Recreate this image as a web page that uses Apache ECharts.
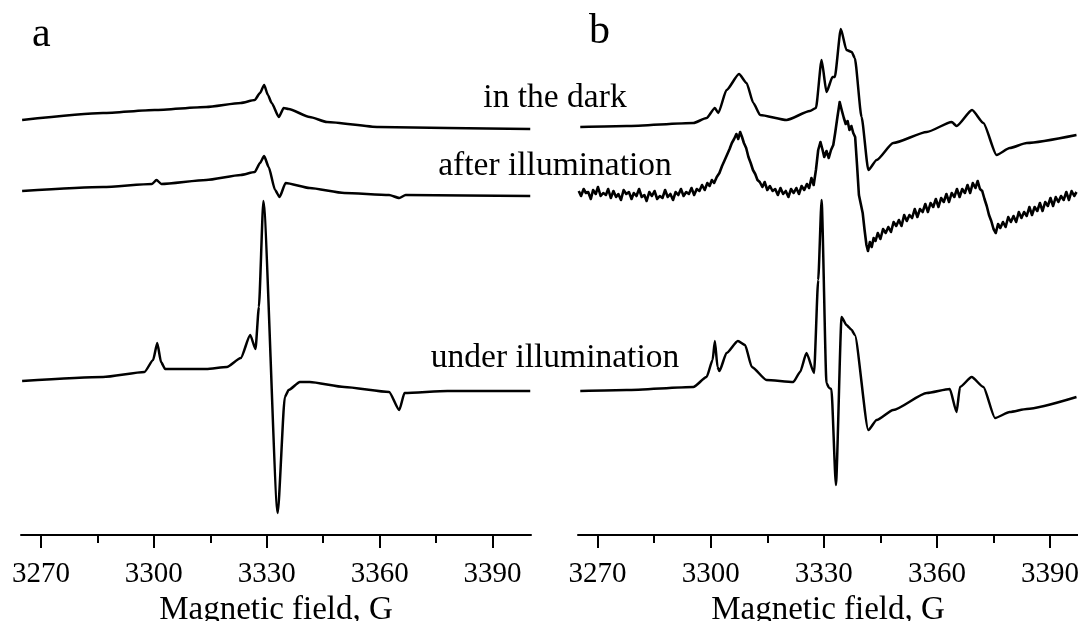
<!DOCTYPE html>
<html>
<head>
<meta charset="utf-8">
<script src="https://cdn.jsdelivr.net/npm/echarts@6/dist/echarts.min.js"></script>
<style>
html,body{margin:0;padding:0;background:#fff;}
#chart{width:1078px;height:621px;}
</style>
</head>
<body>
<div id="chart"></div>
<script>
// ---- data (field in G, intensity in arbitrary units, traces already offset) ----
const fieldTicks = [3270, 3300, 3330, 3360, 3390];
const minorTicks = [3285, 3315, 3345, 3375];
const traceLabels = ['in the dark', 'after illumination', 'under illumination'];
const panelLabels = ['a', 'b'];

const aDark = [[3265.0,415],[3286.5,422],[3300.2,425],[3313.9,428],[3323.1,432],[3326.8,435],[3328.2,442],[3329.3,450],[3330.3,440],[3331.3,432],[3333.2,418],[3334.5,427],[3335.8,426],[3341.4,418],[3346,413],[3359.7,408],[3378,407],[3400,406]];
const aAfter = [[3265,344],[3286.5,348],[3299.5,351],[3300.7,355],[3302,351],[3313.9,355],[3323.1,360],[3326.8,363],[3328.2,372],[3329.3,379],[3330.5,368],[3332.2,345],[3333.4,338],[3335,352],[3341.4,347],[3350.6,342],[3362.5,340],[3365.2,337],[3366.9,340],[3400,339]];
const aUnder = [[3265,154],[3286.5,158],[3297.5,163],[3299.8,175],[3300.9,192],[3301.9,173],[3303,166],[3313.9,166],[3319.4,168],[3323.1,177],[3325.6,200],[3327,186],[3327.9,228],[3329.1,334],[3332.9,22],[3334.8,138],[3335.8,145],[3338.8,153],[3341.4,153],[3350.6,148],[3362.5,143],[3365.2,125],[3366.6,142],[3378,144],[3400,144]];

const bDark = [[3265.4,408],[3277.7,409],[3295.4,412],[3298.9,417],[3301.1,427],[3302,422],[3304.2,445],[3307.5,461],[3309.5,452],[3311.3,432],[3313.1,420],[3320.1,415],[3326.3,424],[3327.9,427],[3329.4,475],[3330.7,443],[3332.3,458],[3332.9,458],[3334.5,506],[3336,485],[3337.4,483],[3338.2,477],[3340,418],[3341.8,365],[3344,375],[3348.4,392],[3357.3,403],[3363.9,413],[3365.2,409],[3369.3,425],[3372.3,412],[3375.8,380],[3379.3,387],[3383.8,392],[3397,400]];
const bAfter = [[3265,344],[3265.6,339],[3266.3,346],[3266.9,342],[3267.5,343],[3268.2,336],[3268.8,345],[3269.5,341],[3270.1,348],[3270.8,339],[3271.5,342],[3272.2,340],[3272.8,346],[3273.5,337],[3274.2,344],[3274.9,338],[3275.5,341],[3276.2,335],[3276.9,345],[3277.6,341],[3278.3,343],[3279,336],[3279.6,342],[3280.3,339],[3281,346],[3281.7,338],[3282.4,340],[3283,334],[3283.7,343],[3284.4,339],[3285.1,344],[3285.8,336],[3286.5,339],[3287.2,337],[3287.9,345],[3288.6,338],[3289.3,341],[3290,335],[3290.7,343],[3291.4,340],[3292.1,346],[3292.8,339],[3293.5,343],[3294.2,341],[3294.9,347],[3295.6,340],[3296.3,346],[3297,344],[3297.7,350],[3298.4,345],[3299.1,352],[3299.7,349],[3300.3,355],[3300.9,352],[3301.6,358],[3302.3,362],[3303,369],[3303.6,374],[3304.3,380],[3305,386],[3305.6,392],[3306.2,396],[3306.8,401],[3307.3,396],[3307.8,403],[3308.3,398],[3308.8,392],[3309.4,387],[3310,378],[3310.6,372],[3311.2,365],[3311.8,361],[3312.4,355],[3313,353],[3313.7,348],[3314.3,353],[3315,345],[3315.7,349],[3316.4,344],[3317.1,346],[3317.8,340],[3318.5,347],[3319.2,341],[3319.9,344],[3320.6,338],[3321.3,346],[3322,342],[3322.7,347],[3323.4,341],[3324.1,349],[3324.8,345],[3325.5,351],[3326.1,347],[3326.7,357],[3327.3,350],[3327.9,365],[3328.5,385],[3329.1,393],[3329.6,386],[3330.1,378],[3330.7,384],[3331.3,377],[3331.9,385],[3332.5,390],[3333,402],[3333.6,418],[3334.2,433],[3334.8,424],[3335.3,417],[3335.8,411],[3336.3,414],[3336.8,405],[3337.3,409],[3337.8,402],[3338.3,398],[3338.8,370],[3339.3,340],[3339.8,331],[3340.3,322],[3340.8,305],[3341.3,290],[3341.7,284],[3342.2,293],[3342.7,288],[3343.2,297],[3343.7,294],[3344.3,302],[3345,296],[3345.7,306],[3346.4,302],[3347.1,308],[3347.8,303],[3348.5,313],[3349.2,309],[3349.9,315],[3350.6,309],[3351.3,320],[3352,314],[3352.7,320],[3353.4,317],[3354.1,326],[3354.8,318],[3355.5,326],[3356.2,323],[3356.9,331],[3357.6,323],[3358.3,332],[3359,328],[3359.7,336],[3360.4,328],[3361.1,337],[3361.8,333],[3362.5,341],[3363.2,333],[3363.9,342],[3364.6,338],[3365.3,346],[3366,338],[3366.7,346],[3367.4,342],[3368.1,350],[3368.8,342],[3369.5,352],[3370.2,347],[3370.8,354],[3371.4,346],[3372,344],[3372.6,336],[3373.2,329],[3373.8,320],[3374.4,314],[3375,306],[3375.6,302],[3376.2,311],[3376.8,307],[3377.5,313],[3378.2,308],[3378.9,318],[3379.6,313],[3380.3,319],[3381,313],[3381.7,323],[3382.4,317],[3383.1,323],[3383.8,319],[3384.5,328],[3385.2,320],[3385.9,328],[3386.6,324],[3387.3,332],[3388,324],[3388.7,333],[3389.4,329],[3390.1,337],[3390.8,329],[3391.5,338],[3392.2,333],[3392.9,339],[3393.6,335],[3394.3,343],[3395,335],[3395.7,344],[3396.4,339],[3397,343]];
const bUnder = [[3265.4,144],[3277.7,145],[3295.4,148],[3298.9,158],[3300.5,175],[3301.1,194],[3301.8,168],[3302.3,164],[3304.2,182],[3307.2,194],[3309.1,190],[3310.9,168],[3314.8,155],[3321.9,153],[3323.7,163],[3325.4,182],[3327.4,162],[3328.5,255],[3329.4,335],[3330.7,152],[3331.4,147],[3332,146],[3333.2,50],[3334.7,218],[3336,210],[3337.4,205],[3338.2,200],[3341.8,105],[3344,115],[3348.4,125],[3357.3,142],[3363.4,146],[3365.2,123],[3366.1,148],[3369.2,158],[3372.3,148],[3375.4,117],[3379.3,123],[3383.8,126],[3397,138]];

const panels = [
  {range: [3264.7, 3400.2], traces: [aDark, aAfter, aUnder]},
  {range: [3264.8, 3397.4], traces: [bDark, bAfter, bUnder]}
];

const FONT = '"Liberation Serif", "Times New Roman", serif';
const chart = echarts.init(document.getElementById('chart'), null, {renderer: 'canvas'});

const grids = [
  {left: 21, width: 510, top: 0, height: 535, outerBoundsMode: 'none', containLabel: false},
  {left: 578, width: 500, top: 0, height: 535, outerBoundsMode: 'none', containLabel: false}
];

const xAxes = [], yAxes = [], series = [];
panels.forEach((p, i) => {
  xAxes.push({
    type: 'value', gridIndex: i, min: p.range[0], max: p.range[1],
    splitLine: {show: false},
    axisLine: {show: true, onZero: false, lineStyle: {color: '#000', width: 2}},
    axisTick: {show: true, length: 13, lineStyle: {color: '#000', width: 2}, customValues: fieldTicks},
    axisLabel: {show: true, color: '#000', fontFamily: FONT, fontSize: 29, margin: 25,
      customValues: fieldTicks, formatter: v => String(v)},
    name: 'Magnetic field, G', nameLocation: 'middle', nameGap: 41,
    nameTextStyle: {color: '#000', fontFamily: FONT, fontSize: 33}
  });
  xAxes.push({
    type: 'value', gridIndex: i, min: p.range[0], max: p.range[1], position: 'bottom',
    splitLine: {show: false},
    axisLine: {show: false, onZero: false},
    axisTick: {show: true, length: 8, lineStyle: {color: '#000', width: 2}, customValues: minorTicks},
    axisLabel: {show: false}
  });
  yAxes.push({type: 'value', gridIndex: i, min: 0, max: 535, show: false});
  p.traces.forEach((t) => {
    const noisy = (t === bAfter);
    series.push({
      type: 'line', xAxisIndex: i * 2, yAxisIndex: i, data: t,
      showSymbol: false, symbol: 'none',
      smooth: noisy ? false : 0.2, smoothMonotone: 'x',
      lineStyle: {color: '#000', width: noisy ? 2.6 : 2.5, join: 'round'},
      silent: true, animation: false
    });
  });
});

const textMidY = [98, 166, 358];
const graphics = traceLabels.map((s, k) => ({
  type: 'text', x: 555, y: textMidY[k],
  style: {text: s, fill: '#000', font: '33.5px ' + FONT, textAlign: 'center', textVerticalAlign: 'middle'}
}));
graphics.push({type: 'text', x: 32, y: 35, style: {text: panelLabels[0], fill: '#000', font: '42px ' + FONT, textAlign: 'left', textVerticalAlign: 'middle'}});
graphics.push({type: 'text', x: 589, y: 32, style: {text: panelLabels[1], fill: '#000', font: '42px ' + FONT, textAlign: 'left', textVerticalAlign: 'middle'}});

chart.setOption({
  animation: false,
  backgroundColor: '#fff',
  grid: grids,
  xAxis: xAxes,
  yAxis: yAxes,
  series: series,
  graphic: graphics
});
</script>
</body>
</html>
